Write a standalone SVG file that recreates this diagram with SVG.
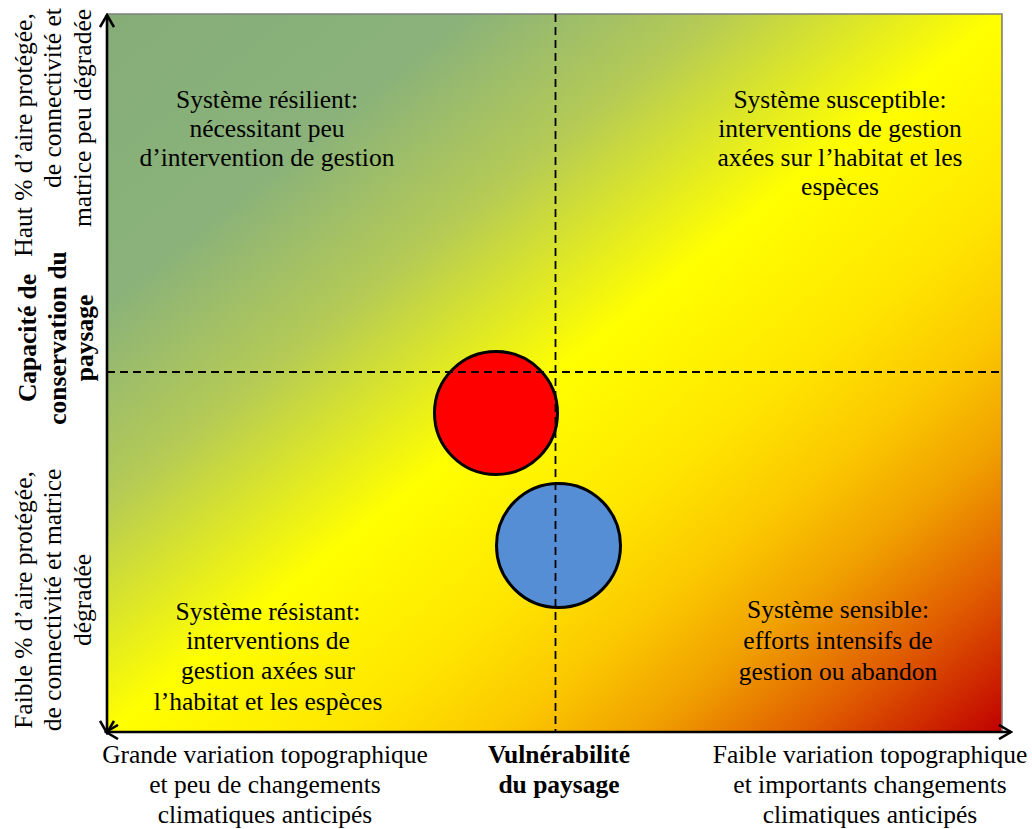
<svg xmlns="http://www.w3.org/2000/svg" width="1032" height="829" viewBox="0 0 1032 829">
<style>
text{font-family:"Liberation Serif","Times New Roman",serif;font-size:25.5px;fill:#000}
.c{text-anchor:middle}
.b{font-weight:bold}
.ax{stroke:#000;stroke-width:2.6;fill:none}
.dash{stroke:#000;stroke-width:1.8;stroke-dasharray:8 5;fill:none}
.circ{stroke:#000;stroke-width:3}
</style>
<defs>
<linearGradient id="bg" x1="0" y1="0" x2="1" y2="1">
<stop offset="0" stop-color="#86ad78"/>
<stop offset="0.2" stop-color="#8ab27a"/>
<stop offset="0.34" stop-color="#b5cb55"/>
<stop offset="0.5" stop-color="#ffff00"/>
<stop offset="0.63" stop-color="#ffe600"/>
<stop offset="0.72" stop-color="#fbc800"/>
<stop offset="0.8" stop-color="#f0a000"/>
<stop offset="0.89" stop-color="#e05c00"/>
<stop offset="1" stop-color="#c00000"/>
</linearGradient>
<marker id="arr" viewBox="-14 -8 16 16" markerWidth="16" markerHeight="16" refX="0" refY="0" orient="auto-start-reverse" markerUnits="userSpaceOnUse">
<path d="M-12,-7 L0,0 L-12,7" fill="none" stroke="#000" stroke-width="2.6"/>
</marker>
</defs>
<g id="background">
<rect x="107" y="14" width="895" height="718" fill="url(#bg)"/>
<path d="M107,14 H1002 V732" fill="none" stroke="#7f7f7f" stroke-width="1.6"/>
</g>
<g id="node-red">
<circle class="circ" cx="496" cy="413" r="61.5" fill="#ff0000"/>
</g>
<g id="node-blue">
<circle class="circ" cx="558.5" cy="545.5" r="62" fill="#558ed5"/>
</g>
<g id="connectors">
<line class="dash" x1="555.5" y1="14" x2="555.5" y2="732"/>
<line class="dash" x1="107" y1="372" x2="1002" y2="372"/>
<line class="ax" x1="107" y1="733" x2="107" y2="15" marker-start="url(#arr)" marker-end="url(#arr)"/>
<line class="ax" x1="106" y1="732" x2="1011" y2="732" marker-start="url(#arr)" marker-end="url(#arr)"/>
</g>
<g id="quad-tl">
<text class="c" x="267" y="108">Système résilient:</text>
<text class="c" x="267" y="137">nécessitant peu</text>
<text class="c" x="267" y="166">d’intervention de gestion</text>
</g>
<g id="quad-tr">
<text class="c" x="840" y="108">Système susceptible:</text>
<text class="c" x="840" y="137">interventions de gestion</text>
<text class="c" x="840" y="166">axées sur l’habitat et les</text>
<text class="c" x="840" y="195">espèces</text>
</g>
<g id="quad-bl">
<text class="c" x="268" y="620">Système résistant:</text>
<text class="c" x="268" y="649">interventions de</text>
<text class="c" x="268" y="679">gestion axées sur</text>
<text class="c" x="268" y="710">l’habitat et les espèces</text>
</g>
<g id="quad-br">
<text class="c" x="838" y="618">Système sensible:</text>
<text class="c" x="838" y="649">efforts intensifs de</text>
<text class="c" x="838" y="680">gestion ou abandon</text>
</g>
<g id="x-labels">
<text class="c" x="265" y="763">Grande variation topographique</text>
<text class="c" x="265" y="793">et peu de changements</text>
<text class="c" x="265" y="823">climatiques anticipés</text>
<text class="c b" x="559" y="763">Vulnérabilité</text>
<text class="c b" x="559" y="793">du paysage</text>
<text class="c" x="870" y="763">Faible variation topographique</text>
<text class="c" x="870" y="793">et importants changements</text>
<text class="c" x="870" y="823">climatiques anticipés</text>
</g>
<g id="y-labels">
<text class="c" transform="translate(32,135) rotate(-90)">Haut % d’aire protégée,</text>
<text class="c" transform="translate(61,98) rotate(-90)">de connectivité et</text>
<text class="c" transform="translate(91,118) rotate(-90)">matrice peu dégradée</text>
<text class="c b" transform="translate(36,338) rotate(-90)">Capacité de</text>
<text class="c b" transform="translate(66,338) rotate(-90)">conservation du</text>
<text class="c b" transform="translate(93,338) rotate(-90)">paysage</text>
<text class="c" transform="translate(32,600) rotate(-90)">Faible % d’aire protégée,</text>
<text class="c" transform="translate(61,600) rotate(-90)">de connectivité et matrice</text>
<text class="c" transform="translate(91,600) rotate(-90)">dégradée</text>
</g>
</svg>
